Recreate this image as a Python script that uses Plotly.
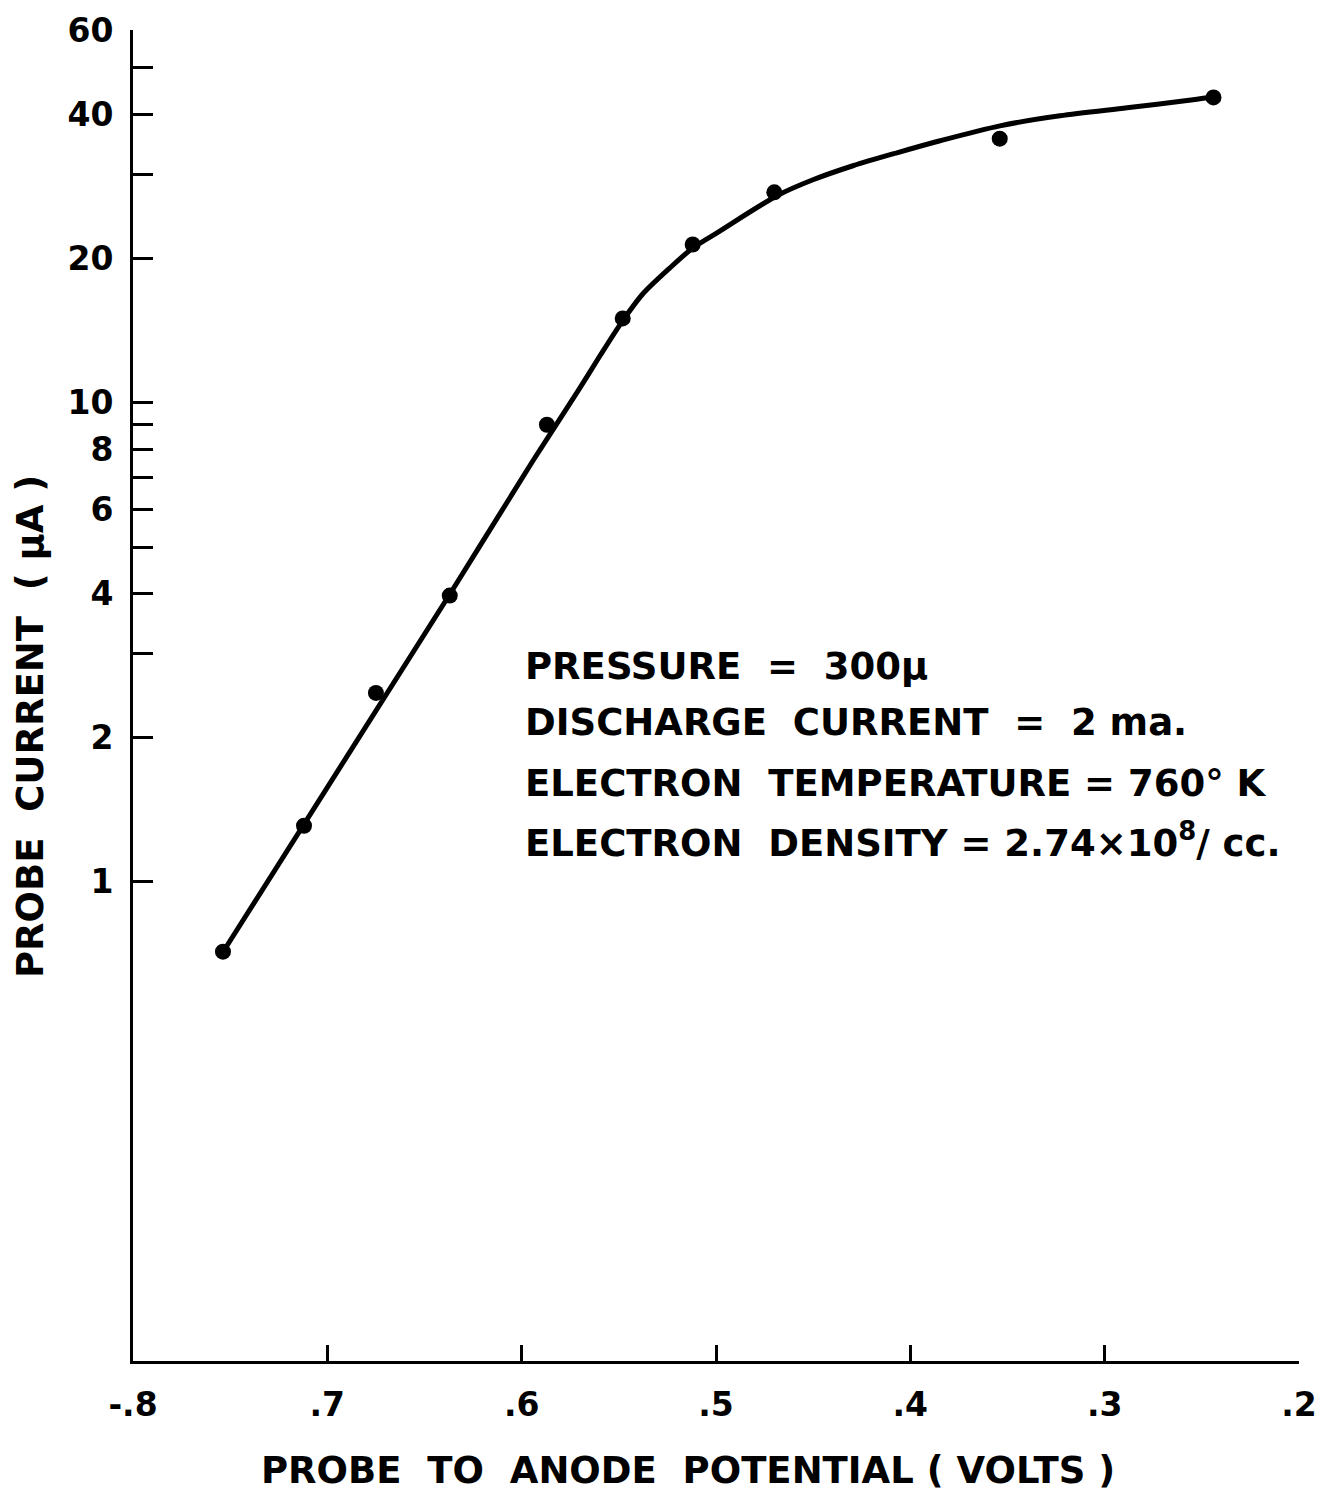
import plotly.graph_objects as go

# Measured data points (probe to anode potential in volts, probe current in microamps)
point_x = [-0.7537, -0.712, -0.675, -0.637, -0.587, -0.548, -0.512, -0.470, -0.354, -0.244]
point_y = [0.715, 1.31, 2.48, 3.96, 9.0, 15.0, 21.4, 27.5, 35.6, 43.4]

# Hand-drawn fitted curve
curve_x = [-0.7537, -0.6369, -0.5942, -0.5710, -0.5597, -0.5484, -0.5376, -0.5237,
           -0.5118, -0.4995, -0.4686, -0.4501, -0.4295, -0.4069, -0.3847, -0.3539,
           -0.3230, -0.2885, -0.2545, -0.2442]
curve_y = [0.714, 3.99, 7.57, 10.59, 12.54, 14.76, 16.89, 19.13,
           21.07, 22.64, 27.06, 29.21, 31.25, 33.26, 35.24, 37.86,
           39.73, 41.29, 42.91, 43.54]

x_tickvals = [-0.8, -0.7, -0.6, -0.5, -0.4, -0.3, -0.2]
x_ticktext = ["-.8", ".7", ".6", ".5", ".4", ".3", ".2"]
y_tickvals = [1, 2, 4, 6, 8, 10, 20, 40, 60]
y_ticktext = ["1", "2", "4", "6", "8", "10", "20", "40", "60"]
y_minor_tickvals = [3, 5, 7, 9, 30, 50]

info_lines = [
    "PRESSURE  =  300\u03bc",
    "DISCHARGE  CURRENT  =  2 ma.",
    "ELECTRON  TEMPERATURE = 760\u00b0 K",
    "ELECTRON  DENSITY = 2.74\u00d710<sup>8</sup>/ cc.",
]
info_y = [0.522, 0.480, 0.434, 0.391]

FONT = "DejaVu Sans"
INK = "#000000"

fig = go.Figure()
fig.add_trace(go.Scatter(
    x=curve_x, y=curve_y, mode="lines",
    line=dict(color=INK, width=5, shape="spline", smoothing=0.8),
    hoverinfo="skip", showlegend=False,
))
fig.add_trace(go.Scatter(
    x=point_x, y=point_y, mode="markers",
    marker=dict(color=INK, size=16),
    showlegend=False,
))

annotations = []
for txt, yy in zip(info_lines, info_y):
    annotations.append(dict(
        text="<b>" + txt + "</b>", x=0.3345, y=yy, xref="paper", yref="paper",
        xanchor="left", yanchor="middle", showarrow=False,
        font=dict(family=FONT, size=37, color=INK),
    ))
annotations.append(dict(
    text="<b>PROBE  CURRENT  ( \u03bcA )</b>", x=-0.0883, y=0.4763, xref="paper", yref="paper",
    xanchor="center", yanchor="middle", showarrow=False, textangle=-90,
    font=dict(family=FONT, size=37, color=INK),
))
annotations.append(dict(
    text="<b>PROBE  TO  ANODE  POTENTIAL ( VOLTS )</b>", x=0.476, y=-0.0819,
    xref="paper", yref="paper", xanchor="center", yanchor="middle", showarrow=False,
    font=dict(family=FONT, size=37, color=INK),
))

fig.update_layout(
    width=1319, height=1491,
    margin=dict(l=133, r=20, t=30, b=130),
    paper_bgcolor="white", plot_bgcolor="white",
    annotations=annotations,
    xaxis=dict(
        range=[-0.8, -0.2], tickvals=x_tickvals, ticktext=x_ticktext,
        ticks="inside", ticklen=16, tickwidth=3, tickcolor=INK,
        showline=True, linewidth=3, linecolor=INK, automargin=False,
        showgrid=False, zeroline=False, ticklabelstandoff=12,
        tickfont=dict(family=FONT, size=33, color=INK, weight="bold"),
    ),
    yaxis=dict(
        type="log", range=[-1, 1.7782], tickvals=y_tickvals, ticktext=y_ticktext,
        ticks="inside", ticklen=20, tickwidth=3, tickcolor=INK,
        minor=dict(tickvals=y_minor_tickvals, ticks="inside", ticklen=20,
                   tickwidth=3, tickcolor=INK, showgrid=False),
        showline=True, linewidth=3, linecolor=INK, automargin=False,
        showgrid=False, zeroline=False, ticklabelstandoff=10,
        tickfont=dict(family=FONT, size=33, color=INK, weight="bold"),
    ),
)

# remove the default 8px page margin so the figure fills the window exactly
fig.write_html("out.html", config={"displayModeBar": False},
               post_script="document.body.style.margin='0';")
